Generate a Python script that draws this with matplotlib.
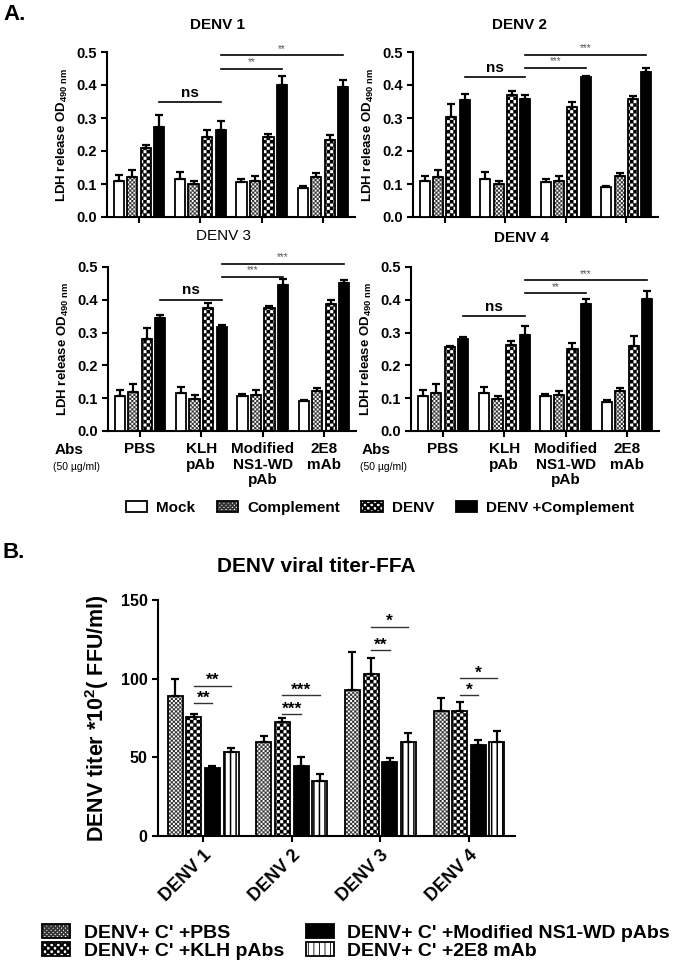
import numpy as np
import matplotlib
matplotlib.use('Agg')
import matplotlib.pyplot as plt
import matplotlib.hatch as mhatch
from matplotlib.path import Path
from matplotlib.patches import Patch
from matplotlib.legend_handler import HandlerTuple
from matplotlib.ticker import FormatStrFormatter

plt.rcParams['font.family'] = ['Liberation Sans', 'DejaVu Sans']
plt.rcParams['font.weight'] = 'bold'
plt.rcParams['axes.labelweight'] = 'bold'
plt.rcParams['mathtext.default'] = 'regular'
plt.rcParams['hatch.linewidth'] = 0.6


# checkerboard hatch: replaces the large-circle pattern 'O'
class CheckerHatch(mhatch.HatchPatternBase):
    def __init__(self, hatch, density):
        n = int(hatch.count('O') * density)
        if n % 2:
            n += 1
        self.n = n
        self.num_vertices = (n * n // 2) * 5

    def set_vertices_and_codes(self, vertices, codes):
        n = self.n
        s = 1.0 / n
        k = 0
        sq = np.array([[0, 0], [1, 0], [1, 1], [0, 1], [0, 0]], float) * s
        cd = [Path.MOVETO, Path.LINETO, Path.LINETO, Path.LINETO, Path.CLOSEPOLY]
        for i in range(n):
            for j in range(n):
                if (i + j) % 2 == 0:
                    vertices[k:k + 5] = sq + [i * s, j * s]
                    codes[k:k + 5] = cd
                    k += 5


mhatch._hatch_types = [CheckerHatch if t is mhatch.LargeCircles else t
                       for t in mhatch._hatch_types]

# ---------------- Panel A data ----------------
panel_titles_A = ['DENV 1', 'DENV 2', 'DENV 3', 'DENV 4']
groups_A = ['PBS', 'KLH\npAb', 'Modified\nNS1-WD\npAb', '2E8\nmAb']
series_A = ['Mock', 'Complement', 'DENV', 'DENV +Complement']

# rows: PBS, KLH, Modified, 2E8 ; cols: Mock, Complement, DENV, DENV+Complement
denv1_mean = [[0.110, 0.120, 0.209, 0.273],
              [0.116, 0.100, 0.243, 0.263],
              [0.106, 0.108, 0.243, 0.399],
              [0.088, 0.122, 0.232, 0.393]]
denv1_err = [[0.018, 0.023, 0.010, 0.035],
             [0.019, 0.008, 0.022, 0.029],
             [0.010, 0.015, 0.010, 0.029],
             [0.005, 0.011, 0.017, 0.021]]
denv2_mean = [[0.108, 0.120, 0.302, 0.354],
              [0.116, 0.100, 0.369, 0.359],
              [0.106, 0.108, 0.333, 0.423],
              [0.090, 0.123, 0.358, 0.438]]
denv2_err = [[0.017, 0.023, 0.041, 0.020],
             [0.019, 0.008, 0.012, 0.012],
             [0.010, 0.015, 0.014, 0.005],
             [0.005, 0.010, 0.010, 0.014]]
denv3_mean = [[0.106, 0.118, 0.280, 0.346],
              [0.116, 0.099, 0.374, 0.317],
              [0.107, 0.109, 0.376, 0.446],
              [0.090, 0.121, 0.386, 0.451]]
denv3_err = [[0.020, 0.024, 0.035, 0.009],
             [0.018, 0.010, 0.016, 0.005],
             [0.007, 0.015, 0.004, 0.017],
             [0.003, 0.011, 0.012, 0.010]]
denv4_mean = [[0.106, 0.116, 0.256, 0.280],
              [0.116, 0.099, 0.263, 0.292],
              [0.107, 0.109, 0.251, 0.388],
              [0.088, 0.121, 0.259, 0.403]]
denv4_err = [[0.018, 0.026, 0.003, 0.007],
             [0.018, 0.007, 0.010, 0.027],
             [0.007, 0.013, 0.017, 0.014],
             [0.005, 0.011, 0.031, 0.023]]

# significance brackets (from group, to group, y, label) between DENV+Complement bars
sig_denv1 = [(0, 1, 0.348, 'ns'), (1, 2, 0.450, '**'), (1, 3, 0.490, '**')]
sig_denv2 = [(0, 1, 0.423, 'ns'), (1, 2, 0.452, '***'), (1, 3, 0.492, '***')]
sig_denv3 = [(0, 1, 0.400, 'ns'), (1, 2, 0.470, '***'), (1, 3, 0.510, '***')]
sig_denv4 = [(0, 1, 0.350, 'ns'), (1, 2, 0.420, '**'), (1, 3, 0.460, '***')]

# ---------------- Panel B data ----------------
virus_B = ['DENV 1', 'DENV 2', 'DENV 3', 'DENV 4']
series_B = ["DENV+ C' +PBS", "DENV+ C' +KLH pAbs",
            "DENV+ C' +Modified NS1-WD pAbs", "DENV+ C' +2E8 mAb"]
pbs_mean = [89.0, 60.0, 92.8, 79.7]
pbs_err = [11.0, 3.8, 24.4, 7.8]
klh_mean = [75.4, 72.7, 102.8, 79.7]
klh_err = [2.1, 2.1, 10.5, 5.7]
mod_mean = [43.0, 44.7, 47.2, 57.8]
mod_err = [1.3, 5.7, 2.6, 3.2]
e2e8_mean = [53.6, 35.2, 60.0, 59.5]
e2e8_err = [2.4, 4.0, 5.3, 7.5]
# (group, from bar, to bar, y, label)
sig_B = [(0, 1, 2, 84.5, '**'), (0, 1, 3, 95.5, '**'),
         (1, 1, 2, 77.6, '***'), (1, 1, 3, 89.6, '***'),
         (2, 1, 2, 118.0, '**'), (2, 1, 3, 133.0, '*'),
         (3, 1, 2, 89.6, '*'), (3, 1, 3, 100.4, '*')]

# ---------------- styles ----------------
# (face, hatch, hatch colour, hatch linewidth)
STY_MOCK = ('white', None, None, None)
STY_COMP = ('white', 'OOOOOOOO', '#333333', 0.1)
STY_DENV = ('white', 'OOOOO', 'black', 0.2)
STY_BLACK = ('black', None, None, None)
STY_VLINES = ('white', '|||', 'black', 1.1)
styles_A = [STY_MOCK, STY_COMP, STY_DENV, STY_BLACK]
styles_B = [STY_COMP, STY_DENV, STY_BLACK, STY_VLINES]
EDGE_LW = 1.3


def hatch_patch(p, hlw):
    if hasattr(p, 'set_hatch_linewidth'):
        try:
            p.set_hatch_linewidth(hlw)
        except Exception:
            pass


def draw_bars(ax, x, h, err, style, width):
    face, hatch, hcol, hlw = style
    if hatch:
        bc = ax.bar(x, h, width, color='white', edgecolor=hcol, hatch=hatch,
                    linewidth=0, zorder=2)
        for p in bc:
            hatch_patch(p, hlw)
        ax.bar(x, h, width, fill=False, edgecolor='black',
               linewidth=EDGE_LW, zorder=3)
    else:
        ax.bar(x, h, width, color=face, edgecolor='black',
               linewidth=EDGE_LW, zorder=3)
    err = np.asarray(err)
    ax.errorbar(x, h, yerr=[np.zeros_like(err), err], fmt='none',
                ecolor='black', elinewidth=1.6, capsize=3, capthick=1.6,
                zorder=4)


def legend_handle(style):
    face, hatch, hcol, hlw = style
    if hatch:
        p = Patch(facecolor='white', edgecolor=hcol, hatch=hatch, linewidth=0)
        hatch_patch(p, hlw)
        return (p, Patch(fill=False, edgecolor='black', linewidth=EDGE_LW))
    return Patch(facecolor=face, edgecolor='black', linewidth=EDGE_LW)


def style_axes(ax):
    for s in ['top', 'right']:
        ax.spines[s].set_visible(False)
    for s in ['left', 'bottom']:
        ax.spines[s].set_linewidth(1.5)
    ax.tick_params(width=1.5, length=4)


W, H = 675, 966
fig = plt.figure(figsize=(W / 100, H / 100), dpi=100)


def fx(px):
    return px / W


def fy(py):
    return 1 - py / H


# ---------------- Panel A ----------------
A_means = [denv1_mean, denv2_mean, denv3_mean, denv4_mean]
A_errs = [denv1_err, denv2_err, denv3_err, denv4_err]
A_sigs = [sig_denv1, sig_denv2, sig_denv3, sig_denv4]
A_rects = [(107, 52, 248, 165), (413, 52, 245, 165),
           (108, 267, 248, 164), (411, 267, 248, 164)]
A_title_pos = [(217, 25, 'bold'), (520, 25, 'bold'), (223, 236, 'normal'), (522, 238, 'bold')]
offsets_A = np.array([-0.33, -0.11, 0.11, 0.33])
width_A = 0.165
xg = np.arange(len(groups_A))

for i in range(4):
    l, t, w, h = A_rects[i]
    ax = fig.add_axes([fx(l), fy(t + h), w / W, h / H])
    mean = np.array(A_means[i])
    err = np.array(A_errs[i])
    for s in range(4):
        draw_bars(ax, xg + offsets_A[s], mean[:, s], err[:, s], styles_A[s], width_A)
    ax.set_xlim(-0.52, 3.52)
    ax.set_ylim(0, 0.5)
    ax.set_yticks(np.arange(0, 0.51, 0.1))
    ax.yaxis.set_major_formatter(FormatStrFormatter('%.1f'))
    ax.set_xticks(xg)
    style_axes(ax)
    ax.tick_params(axis='y', labelsize=10.5)
    if i >= 2:
        ax.set_xticklabels(groups_A, fontsize=11, fontweight='bold', linespacing=1.15)
        ax.tick_params(axis='x', pad=4)
    else:
        ax.set_xticklabels([])
    ax.set_ylabel('LDH release OD$_{490\\ nm}$', fontsize=9.5, labelpad=4)
    for g0, g1, yv, lab in A_sigs[i]:
        x0 = g0 + offsets_A[3]
        x1 = g1 + offsets_A[3]
        ax.plot([x0, x1], [yv, yv], color='black', lw=1.2, clip_on=False, zorder=5)
        if lab == 'ns':
            ax.text((x0 + x1) / 2, yv + 0.008, lab, ha='center', va='bottom',
                    fontsize=11, fontweight='bold')
        else:
            ax.text((x0 + x1) / 2, yv + 0.004, lab, ha='center', va='bottom',
                    fontsize=7, fontweight='normal', color='#555555')
    tx, ty, tw = A_title_pos[i]
    fig.text(fx(tx), fy(ty), panel_titles_A[i], ha='center', va='center',
             fontsize=11, fontweight=tw)

fig.text(fx(3), fy(14), 'A.', ha='left', va='center', fontsize=16, fontweight='bold')
for xl in (55, 362):
    fig.text(fx(xl), fy(450), 'Abs', ha='left', va='center', fontsize=11, fontweight='bold')
    fig.text(fx(xl - 2), fy(467), '(50 \u00b5g/ml)', ha='left', va='center',
             fontsize=7.5, fontweight='normal')

handles_A = [legend_handle(s) for s in styles_A]
fig.legend(handles_A, series_A, loc='center', bbox_to_anchor=(fx(380), fy(508)),
           ncol=4, frameon=False, fontsize=11, handlelength=1.4, handleheight=0.75,
           handletextpad=0.6, columnspacing=1.4, borderpad=0,
           handler_map={tuple: HandlerTuple(ndivide=1, pad=0)})

# ---------------- Panel B ----------------
axb = fig.add_axes([fx(158), fy(836), 357 / W, 236 / H])
offsets_B = np.array([-0.315, -0.105, 0.105, 0.315])
width_B = 0.17
xb = np.arange(len(virus_B))
B_means = [pbs_mean, klh_mean, mod_mean, e2e8_mean]
B_errs = [pbs_err, klh_err, mod_err, e2e8_err]
for s in range(4):
    draw_bars(axb, xb + offsets_B[s], B_means[s], B_errs[s], styles_B[s], width_B)
axb.set_xlim(-0.51, 3.52)
axb.set_ylim(0, 150)
axb.set_yticks([0, 50, 100, 150])
axb.set_xticks(xb)
style_axes(axb)
axb.tick_params(axis='y', labelsize=11.5)
axb.set_xticklabels(virus_B, rotation=45, ha='right', rotation_mode='anchor',
                    fontsize=13, fontweight='bold')
axb.set_ylabel('DENV titer *10$^2$( FFU/ml)', fontsize=15.5, labelpad=7)
for g, b0, b1, yv, lab in sig_B:
    x0 = g + offsets_B[b0]
    x1 = g + offsets_B[b1]
    axb.plot([x0, x1], [yv, yv], color='#333333', lw=1.0, clip_on=False, zorder=5)
    axb.text((x0 + x1) / 2, yv - 1.5, lab, ha='center', va='bottom',
             fontsize=12.5, fontweight='bold')

fig.text(fx(316), fy(567), 'DENV viral titer-FFA', ha='center', va='center',
         fontsize=15, fontweight='bold')
fig.text(fx(3), fy(552), 'B.', ha='left', va='center', fontsize=16, fontweight='bold')

handles_B = [legend_handle(s) for s in styles_B]
fig.legend(handles_B, series_B, loc='center', bbox_to_anchor=(fx(356), fy(942)),
           ncol=2, frameon=False, fontsize=14, handlelength=1.45, handleheight=0.7,
           handletextpad=0.7, columnspacing=1.1, labelspacing=0.05, borderpad=0,
           handler_map={tuple: HandlerTuple(ndivide=1, pad=0)})

fig.savefig('out.png', dpi=100)
